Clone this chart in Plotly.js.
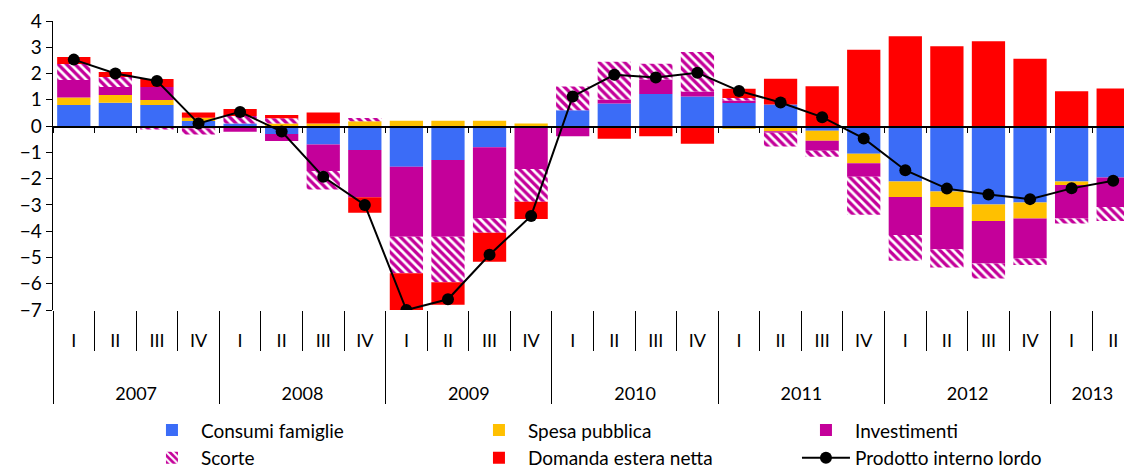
<!DOCTYPE html>
<html>
<head>
<meta charset="utf-8">
<script src="https://cdn.plot.ly/plotly-3.0.1.min.js"></script>
<style>html,body{margin:0;padding:0;background:#fff;}#chart{width:1124px;height:470px;}</style>
</head>
<body>
<div id="chart"></div>
<script>
// Quarters 2007 Q1 .. 2013 Q2
const years = ['2007','2007','2007','2007','2008','2008','2008','2008','2009','2009','2009','2009',
  '2010','2010','2010','2010','2011','2011','2011','2011','2012','2012','2012','2012','2013','2013'];
const quarters = ['I','II','III','IV','I','II','III','IV','I','II','III','IV',
  'I','II','III','IV','I','II','III','IV','I','II','III','IV','I','II'];

const consumiFamiglie = [0.80, 0.89, 0.80, 0.19, 0.10, -0.30, -0.70, -0.91, -1.55, -1.29, -0.81, 0.00,
  0.60, 0.86, 1.22, 1.13, 0.88, 0.82, -0.18, -1.05, -2.11, -2.49, -2.98, -2.91, -2.11, -1.96];
const spesaPubblica = [0.29, 0.29, 0.19, 0.13, 0.00, 0.10, 0.10, 0.18, 0.20, 0.20, 0.20, 0.10,
  0.00, 0.00, 0.00, 0.00, -0.10, -0.20, -0.38, -0.36, -0.59, -0.59, -0.63, -0.61, -0.13, 0.00];
const investimenti = [0.66, 0.31, 0.50, -0.09, -0.22, -0.27, -1.01, -1.80, -2.66, -2.92, -2.70, -1.63,
  -0.39, 0.15, 0.55, 0.19, 0.09, -0.05, -0.38, -0.52, -1.45, -1.61, -1.62, -1.52, -1.28, -1.12];
const scorte = [0.61, 0.38, -0.13, -0.23, 0.28, 0.20, -0.70, 0.13, -1.39, -1.73, -0.55, -1.25,
  0.91, 1.44, 0.60, 1.50, 0.10, -0.53, -0.23, -1.44, -0.98, -0.69, -0.57, -0.25, -0.19, -0.53];
const domandaEsteraNetta = [0.27, 0.19, 0.30, 0.20, 0.27, 0.12, 0.42, -0.59, -1.42, -0.86, -1.10, -0.66,
  0.00, -0.48, -0.39, -0.67, 0.35, 0.98, 1.52, 2.91, 3.42, 3.04, 3.23, 2.56, 1.33, 1.43];
const pil = [2.53, 2.00, 1.72, 0.10, 0.54, -0.21, -1.93, -3.00, -7.00, -6.59, -4.90, -3.42,
  1.13, 1.95, 1.85, 2.03, 1.34, 0.90, 0.34, -0.47, -1.68, -2.38, -2.60, -2.78, -2.37, -2.08];

const yMin = -7, yMax = 4;
const FONT = 'Lato, Carlito, Calibri, sans-serif';
// outer (year) labels pushed lower, as in the reference
const xMulti = [years.map(y => '<br><br>' + y), quarters];
const xFlat = years.map((y, i) => y + ' ' + quarters[i]);
const xRange = [-0.5, 25.26];

function barTrace(name, vals, color, pattern) {
  const t = {type: 'bar', name: name, x: xMulti, y: vals, xaxis: 'x', yaxis: 'y',
    marker: {color: color, line: {width: 0}}, hoverinfo: 'y+name'};
  if (pattern) t.marker.pattern = pattern;
  return t;
}

const data = [
  barTrace('Consumi famiglie', consumiFamiglie, '#3B6CF7'),
  barTrace('Spesa pubblica', spesaPubblica, '#FFC000'),
  barTrace('Investimenti', investimenti, '#C4009A'),
  barTrace('Scorte', scorte, '#C4009A', {shape: '\\', bgcolor: '#C4009A', fgcolor: '#ffffff', size: 6, solidity: 0.45, fillmode: 'replace'}),
  barTrace('Domanda estera netta', domandaEsteraNetta, '#FF0000'),
  {type: 'scatter', mode: 'lines+markers', name: 'Prodotto interno lordo', x: xFlat, y: pil,
    xaxis: 'x2', yaxis: 'y', line: {color: '#000', width: 2}, marker: {color: '#000', size: 12}}
];

const layout = {
  width: 1124, height: 470,
  margin: {l: 53, r: 0, t: 21, b: 160},
  paper_bgcolor: '#fff', plot_bgcolor: '#fff',
  barmode: 'relative', bargap: 0.2,
  font: {family: FONT, size: 19, color: '#000'},
  xaxis: {type: 'multicategory', range: xRange, showgrid: false, zeroline: false, showline: false,
    ticks: 'outside', ticklen: 40, tickcolor: '#000', tickwidth: 1, ticklabelstandoff: 18,
    showdividers: true, dividercolor: '#000', dividerwidth: 1,
    tickfont: {family: FONT, size: 18, color: '#000'}},
  xaxis2: {type: 'category', overlaying: 'x', anchor: 'free', position: (0 - yMin) / (yMax - yMin),
    range: xRange, showgrid: false, zeroline: false, showline: true, linecolor: '#000', linewidth: 1.5,
    ticks: 'outside', ticklen: 5, tickcolor: '#000', tickson: 'boundaries', showticklabels: false},
  yaxis: {range: [yMin, yMax], dtick: 1, tick0: 0, showgrid: false, zeroline: false,
    showline: true, linecolor: '#000', linewidth: 1.5, ticks: 'outside', ticklen: 6, tickcolor: '#000',
    tickfont: {family: FONT, size: 19, color: '#000'}},
  showlegend: true,
  legend: {orientation: 'h', x: 0.084, xanchor: 'left', yref: 'container', y: 0.125, yanchor: 'top',
    entrywidth: 264, font: {family: FONT, size: 19, color: '#000'}, traceorder: 'normal',
    itemwidth: 48, tracegroupgap: 0, bgcolor: 'rgba(0,0,0,0)'}
};

Plotly.newPlot('chart', data, layout, {displayModeBar: false, staticPlot: true});
</script>
</body>
</html>
